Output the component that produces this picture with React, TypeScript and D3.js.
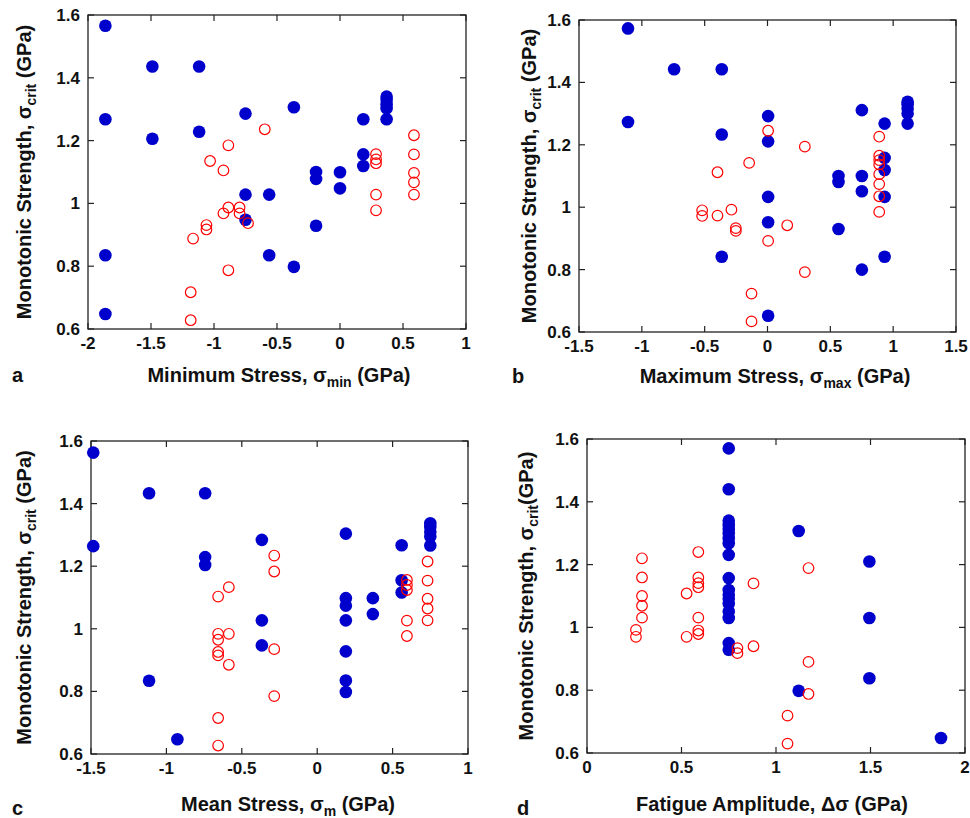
import React, { useEffect, useRef } from "react";
import * as d3 from "d3";

// ---- data ----
const yTicks = [0.6, 0.8, 1.0, 1.2, 1.4, 1.6];

// a: minimum stress
const minStressBlue = [
  [-1.862, 1.566], [-1.489, 1.436], [-1.118, 1.436], [-1.862, 1.268], [-1.489, 1.206], [-1.118, 1.228],
  [-0.75, 1.286], [-0.366, 1.306], [0.185, 1.268], [0.37, 1.34], [0.37, 1.33], [0.37, 1.316],
  [0.37, 1.303], [0.37, 1.268], [0.185, 1.156], [0.185, 1.119], [-0.19, 1.1], [-0.19, 1.078],
  [0, 1.099], [0, 1.048], [-0.75, 1.028], [-0.562, 1.028], [-0.75, 0.948], [-0.19, 0.929],
  [-1.862, 0.835], [-0.562, 0.835], [-0.366, 0.798], [-1.862, 0.648],
];
const minStressRed = [
  [-0.597, 1.236], [-0.886, 1.185], [-1.031, 1.135], [-0.925, 1.105], [0.587, 1.217], [0.587, 1.156],
  [0.587, 1.097], [0.587, 1.067], [0.587, 1.028], [0.286, 1.157], [0.286, 1.14], [0.286, 1.128],
  [0.286, 1.028], [0.286, 0.978], [-0.886, 0.987], [-0.925, 0.968], [-0.797, 0.987], [-0.797, 0.968],
  [-0.73, 0.937], [-1.06, 0.931], [-1.06, 0.917], [-1.166, 0.888], [-0.886, 0.787], [-1.185, 0.717],
  [-1.185, 0.628],
];
const minStressTicks = [-2, -1.5, -1, -0.5, 0, 0.5, 1];

// b: maximum stress
const maxStressBlue = [
  [-1.11, 1.573], [-0.743, 1.442], [-0.364, 1.442], [-1.11, 1.273], [-0.364, 1.233], [0.005, 1.292],
  [0.005, 1.211], [0.005, 1.033], [0.005, 0.952], [0.005, 0.652], [-0.364, 0.841], [0.751, 1.311],
  [0.932, 1.268], [1.115, 1.338], [1.115, 1.33], [1.115, 1.316], [1.115, 1.3], [1.115, 1.268],
  [0.932, 1.158], [0.932, 1.119], [0.932, 1.033], [0.932, 0.841], [0.565, 1.1], [0.565, 1.081],
  [0.751, 1.1], [0.751, 1.051], [0.565, 0.93], [0.751, 0.8],
];
const maxStressRed = [
  [0.005, 1.245], [0.297, 1.194], [-0.146, 1.142], [-0.398, 1.112], [0.889, 1.226], [0.889, 1.165],
  [0.889, 1.151], [0.889, 1.137], [0.889, 1.106], [0.889, 1.074], [0.889, 1.035], [0.889, 0.985],
  [-0.52, 0.99], [-0.52, 0.972], [-0.398, 0.973], [-0.287, 0.992], [-0.252, 0.933], [-0.252, 0.924],
  [0.157, 0.942], [0.005, 0.892], [0.297, 0.792], [-0.127, 0.723], [-0.127, 0.634],
];
const maxStressTicks = [-1.5, -1, -0.5, 0, 0.5, 1, 1.5];

// c: mean stress
const meanStressBlue = [
  [-1.485, 1.563], [-1.115, 1.433], [-0.743, 1.433], [-1.485, 1.264], [-0.743, 1.229], [-0.743, 1.204],
  [-0.367, 1.284], [-0.367, 1.027], [-0.367, 0.947], [-1.115, 0.834], [-0.927, 0.647], [0.19, 1.304],
  [0.19, 1.098], [0.19, 1.074], [0.19, 1.027], [0.19, 0.928], [0.19, 0.835], [0.19, 0.798],
  [0.369, 1.098], [0.369, 1.047], [0.56, 1.267], [0.56, 1.155], [0.56, 1.116], [0.75, 1.337],
  [0.75, 1.325], [0.75, 1.31], [0.75, 1.295], [0.75, 1.266],
];
const meanStressRed = [
  [-0.285, 1.234], [-0.285, 1.183], [-0.586, 1.133], [-0.657, 1.103], [-0.657, 0.984], [-0.657, 0.965],
  [-0.657, 0.926], [-0.657, 0.915], [-0.586, 0.984], [-0.586, 0.885], [-0.285, 0.935], [-0.285, 0.785],
  [-0.657, 0.715], [-0.657, 0.627], [0.595, 1.156], [0.595, 1.14], [0.595, 1.124], [0.595, 1.026],
  [0.595, 0.977], [0.732, 1.215], [0.732, 1.154], [0.732, 1.096], [0.732, 1.065], [0.732, 1.027],
];
const meanStressTicks = [-1.5, -1, -0.5, 0, 0.5, 1];

// d: fatigue amplitude
const amplitudeBlue = [
  [0.75, 1.57], [0.75, 1.44], [0.75, 1.34], [0.75, 1.326], [0.75, 1.313], [0.75, 1.3], [0.75, 1.284],
  [0.75, 1.268], [0.75, 1.231], [0.75, 1.157], [0.75, 1.119], [0.75, 1.104], [0.75, 1.091],
  [0.75, 1.075], [0.75, 1.051], [0.75, 1.03], [0.75, 0.95], [0.75, 0.929], [1.12, 1.307],
  [1.12, 0.798], [1.494, 1.21], [1.494, 1.03], [1.494, 0.838], [1.873, 0.648],
];
const amplitudeRed = [
  [0.291, 1.22], [0.291, 1.159], [0.291, 1.1], [0.291, 1.069], [0.291, 1.031], [0.259, 0.992],
  [0.259, 0.97], [0.527, 1.108], [0.527, 0.97], [0.589, 1.24], [0.589, 1.159], [0.589, 1.141],
  [0.589, 1.128], [0.589, 1.031], [0.589, 0.99], [0.589, 0.979], [0.881, 1.14], [0.881, 0.94],
  [0.796, 0.934], [0.796, 0.918], [1.172, 1.189], [1.172, 0.89], [1.172, 0.788], [1.061, 0.719],
  [1.061, 0.63],
];
const amplitudeTicks = [0, 0.5, 1, 1.5, 2];

// ---- layout ----
const panels = [
  {
    letter: "a", blue: minStressBlue, red: minStressRed, xTicks: minStressTicks,
    box: { left: 88, right: 466, top: 15, bottom: 329 },
    xTitle: ["Minimum Stress, σ", "min", " (GPa)"], titleX: 279, titleY: 382,
    yTitle: ["Monotonic Strength, σ", "crit", " (GPa)"], yTitleX: 31, letterX: 12, letterY: 382,
  },
  {
    letter: "b", blue: maxStressBlue, red: maxStressRed, xTicks: maxStressTicks,
    box: { left: 579, right: 956, top: 20, bottom: 332 },
    xTitle: ["Maximum Stress, σ", "max", " (GPa)"], titleX: 775, titleY: 383,
    yTitle: ["Monotonic Strength, σ", "crit", " (GPa)"], yTitleX: 536, letterX: 512, letterY: 383,
  },
  {
    letter: "c", blue: meanStressBlue, red: meanStressRed, xTicks: meanStressTicks,
    box: { left: 91, right: 468, top: 441, bottom: 754 },
    xTitle: ["Mean Stress, σ", "m", " (GPa)"], titleX: 288, titleY: 811,
    yTitle: ["Monotonic Strength, σ", "crit", " (GPa)"], yTitleX: 31, letterX: 12, letterY: 815,
  },
  {
    letter: "d", blue: amplitudeBlue, red: amplitudeRed, xTicks: amplitudeTicks,
    box: { left: 587, right: 965, top: 439, bottom: 753 },
    xTitle: ["Fatigue Amplitude, Δσ (GPa)", "", ""], titleX: 772, titleY: 811,
    yTitle: ["Monotonic Strength, σ", "crit", "(GPa)"], yTitleX: 533, letterX: 517, letterY: 815,
  },
];

const FONT = "'Liberation Sans', Arial, Helvetica, sans-serif";
const fmt = (v) => String(+v.toFixed(1));

const App = () => {
  const ref = useRef();

  useEffect(() => {
    const svg = d3.select(ref.current);
    svg.selectAll("*").remove();

    panels.forEach((p) => {
      const { left, right, top, bottom } = p.box;
      const x = d3.scaleLinear().domain(d3.extent(p.xTicks)).range([left, right]);
      const y = d3.scaleLinear().domain([0.6, 1.6]).range([bottom, top]);
      const g = svg.append("g");
      const tick = 6;

      // frame
      g.append("rect")
        .attr("x", left).attr("y", top)
        .attr("width", right - left).attr("height", bottom - top)
        .attr("fill", "none").attr("stroke", "#222").attr("stroke-width", 1.3);

      // inward ticks on all four sides
      p.xTicks.forEach((t) => {
        g.append("line").attr("x1", x(t)).attr("x2", x(t)).attr("y1", bottom).attr("y2", bottom - tick)
          .attr("stroke", "#222").attr("stroke-width", 1.2);
        g.append("line").attr("x1", x(t)).attr("x2", x(t)).attr("y1", top).attr("y2", top + tick)
          .attr("stroke", "#222").attr("stroke-width", 1.2);
        g.append("text").attr("x", x(t)).attr("y", bottom + 20)
          .attr("text-anchor", "middle").style("font", `bold 17px ${FONT}`).attr("fill", "#111")
          .text(fmt(t));
      });
      yTicks.forEach((t) => {
        g.append("line").attr("x1", left).attr("x2", left + tick).attr("y1", y(t)).attr("y2", y(t))
          .attr("stroke", "#222").attr("stroke-width", 1.2);
        g.append("line").attr("x1", right).attr("x2", right - tick).attr("y1", y(t)).attr("y2", y(t))
          .attr("stroke", "#222").attr("stroke-width", 1.2);
        g.append("text").attr("x", left - 8).attr("y", y(t) + 6)
          .attr("text-anchor", "end").style("font", `bold 17px ${FONT}`).attr("fill", "#111")
          .text(fmt(t));
      });

      // filled blue points first, open red circles on top
      g.selectAll(".blue").data(p.blue).join("circle")
        .attr("cx", (d) => x(d[0])).attr("cy", (d) => y(d[1])).attr("r", 6.3)
        .attr("fill", "#0000cc");
      g.selectAll(".red").data(p.red).join("circle")
        .attr("cx", (d) => x(d[0])).attr("cy", (d) => y(d[1])).attr("r", 5.3)
        .attr("fill", "none").attr("stroke", "#ff0000").attr("stroke-width", 1.2);

      // x title with subscript
      const xt = g.append("text").attr("x", p.titleX).attr("y", p.titleY)
        .attr("text-anchor", "middle").style("font", `bold 20px ${FONT}`).attr("fill", "#111");
      xt.append("tspan").text(p.xTitle[0]);
      if (p.xTitle[1]) {
        xt.append("tspan").attr("dy", 5).style("font-size", "14px").text(p.xTitle[1]);
        xt.append("tspan").attr("dy", -5).text(p.xTitle[2]);
      }

      // y title, rotated
      const yt = g.append("text")
        .attr("transform", `translate(${p.yTitleX},${(top + bottom) / 2}) rotate(-90)`)
        .attr("text-anchor", "middle").style("font", `bold 20px ${FONT}`).attr("fill", "#111");
      yt.append("tspan").text(p.yTitle[0]);
      yt.append("tspan").attr("dy", 5).style("font-size", "14px").text(p.yTitle[1]);
      yt.append("tspan").attr("dy", -5).text(p.yTitle[2]);

      // panel letter
      g.append("text").attr("x", p.letterX).attr("y", p.letterY)
        .style("font", `bold 20px ${FONT}`).attr("fill", "#111").text(p.letter);
    });
  }, []);

  return (
    <svg
      ref={ref}
      width="970"
      height="818"
      style={{ position: "absolute", left: 0, top: 0, background: "#fff" }}
    ></svg>
  );
};

export default App;
